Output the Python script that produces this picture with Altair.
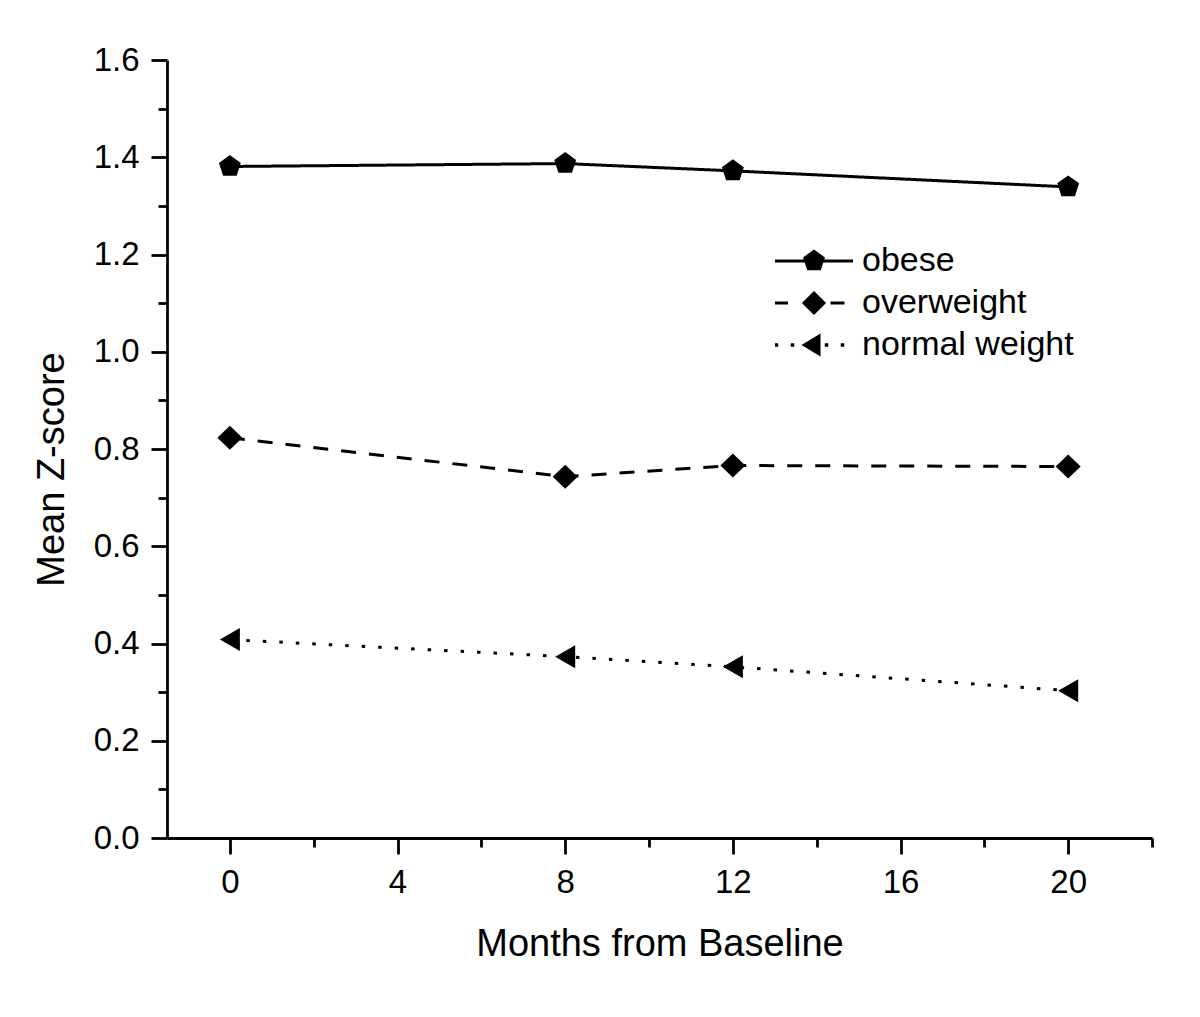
import altair as alt
import pandas as pd

months = [0, 8, 12, 20]
series_names = ["obese", "overweight", "normal weight"]
obese = [1.381, 1.387, 1.372, 1.339]
overweight = [0.823, 0.743, 0.766, 0.764]
normal_weight = [0.408, 0.373, 0.352, 0.303]

x_major = [0, 4, 8, 12, 16, 20]
x_minor = [2, 6, 10, 14, 18, 22]
y_major = [0.0, 0.2, 0.4, 0.6, 0.8, 1.0, 1.2, 1.4, 1.6]
y_minor = [0.1, 0.3, 0.5, 0.7, 0.9, 1.1, 1.3, 1.5]

rows = []
for name, vals in zip(series_names, [obese, overweight, normal_weight]):
    for m, v in zip(months, vals):
        rows.append({"month": m, "z": v, "group": name})
df = pd.DataFrame(rows)

FONT = "Liberation Sans"

# marker shapes (unit paths, drawn with size 625 -> radius 12.5px)
marker_paths = [
    "M0,-0.92L0.875,-0.284L0.541,0.744L-0.541,0.744L-0.875,-0.284Z",
    "M0,-0.96L1,0L0,0.96L-1,0Z",
    "M-0.8,0L0.8,-0.92L0.8,0.92Z",
]
dash_styles = [[1, 0], [15, 13], [3.5, 13]]

# legend symbols: line segment + marker combined (radius 39px)
legend_paths = [
    "M-1,-0.036L1,-0.036L1,0.036L-1,0.036Z "
    "M0,-0.295L0.281,-0.091L0.173,0.239L-0.173,0.239L-0.281,-0.091Z",
    "M-1,-0.04L-0.667,-0.04L-0.667,0.04L-1,0.04Z "
    "M0.423,-0.04L0.782,-0.04L0.782,0.04L0.423,0.04Z "
    "M0,-0.31L0.31,0L0,0.31L-0.31,0Z",
    "M-1.007,-0.045L-0.917,-0.045L-0.917,0.045L-1.007,0.045Z "
    "M-0.596,-0.045L-0.506,-0.045L-0.506,0.045L-0.596,0.045Z "
    "M0.276,-0.045L0.366,-0.045L0.366,0.045L0.276,0.045Z "
    "M0.686,-0.045L0.776,-0.045L0.776,0.045L0.686,0.045Z "
    "M-0.321,0L0.167,-0.295L0.167,0.295Z",
]

xscale = alt.Scale(domain=[-1.5, 22], nice=False, zero=False)
yscale = alt.Scale(domain=[0, 1.6], nice=False, zero=False)

base = alt.Chart(df)

lines = base.mark_line(color="black", strokeWidth=3, strokeCap="butt").encode(
    x=alt.X(
        "month:Q",
        scale=xscale,
        axis=alt.Axis(
            orient="bottom",
            values=x_major,
            format="d",
            grid=False,
            tickSize=16,
            tickWidth=2.8,
            domainWidth=2.8,
            domainColor="black",
            tickColor="black",
            labelColor="black",
            labelFont=FONT,
            labelFontSize=33,
            labelPadding=12,
            title="Months from Baseline",
            titleFont=FONT,
            titleFontSize=38,
            titleFontWeight="normal",
            titleColor="black",
            titlePadding=26,
        ),
    ),
    y=alt.Y(
        "z:Q",
        scale=yscale,
        axis=alt.Axis(
            orient="left",
            values=y_major,
            format=".1f",
            grid=False,
            tickSize=16,
            tickWidth=2.8,
            domainWidth=2.8,
            domainColor="black",
            tickColor="black",
            labelColor="black",
            labelFont=FONT,
            labelFontSize=33,
            labelPadding=12,
            title="Mean Z-score",
            titleFont=FONT,
            titleFontSize=38,
            titleFontWeight="normal",
            titleColor="black",
            titlePadding=22,
            titleY=409,
        ),
    ),
    detail="group:N",
    strokeDash=alt.StrokeDash(
        "group:N",
        scale=alt.Scale(domain=series_names, range=dash_styles),
        legend=None,
    ),
)

points = base.mark_point(filled=True, color="black", opacity=1, strokeWidth=0, size=625).encode(
    x=alt.X("month:Q", scale=xscale, axis=None),
    y=alt.Y("z:Q", scale=yscale, axis=None),
    shape=alt.Shape(
        "group:N",
        scale=alt.Scale(domain=series_names, range=marker_paths),
        legend=None,
    ),
)

legend_layer = base.mark_point(filled=True, color="black", opacity=0, strokeWidth=0).encode(
    x=alt.X("month:Q", scale=xscale, axis=None),
    y=alt.Y("z:Q", scale=yscale, axis=None),
    shape=alt.Shape(
        "group:N",
        scale=alt.Scale(domain=series_names, range=legend_paths),
        legend=alt.Legend(
            title=None,
            orient="none",
            legendX=608,
            legendY=180,
            padding=0,
            symbolSize=6084,
            symbolOpacity=1,
            symbolFillColor="black",
            symbolStrokeWidth=0,
            symbolStrokeColor="black",
            clipHeight=42,
            rowPadding=0,
            labelOffset=9,
            labelFont=FONT,
            labelFontSize=34,
            labelColor="black",
            labelLimit=400,
        ),
    ),
)

minor = base.mark_point(opacity=0).encode(
    x=alt.X(
        "month:Q",
        scale=xscale,
        axis=alt.Axis(
            orient="bottom",
            values=x_minor,
            labels=False,
            domain=False,
            grid=False,
            tickSize=9,
            tickWidth=2.8,
            tickColor="black",
            title=None,
        ),
    ),
    y=alt.Y(
        "z:Q",
        scale=yscale,
        axis=alt.Axis(
            orient="left",
            values=y_minor,
            labels=False,
            domain=False,
            grid=False,
            tickSize=9,
            tickWidth=2.8,
            tickColor="black",
            title=None,
        ),
    ),
)

chart = (
    alt.layer(lines, points, legend_layer, minor)
    .resolve_scale(shape="independent")
    .resolve_axis(x="independent", y="independent")
    .properties(
        width=985,
        height=778,
        autosize=alt.AutoSizeParams(type="none"),
        padding={"left": 159, "top": 52, "right": 40, "bottom": 160},
        background="white",
    )
    .configure_view(stroke=None)
)

chart.save("out.html", embed_options={"renderer": "svg", "actions": False})
